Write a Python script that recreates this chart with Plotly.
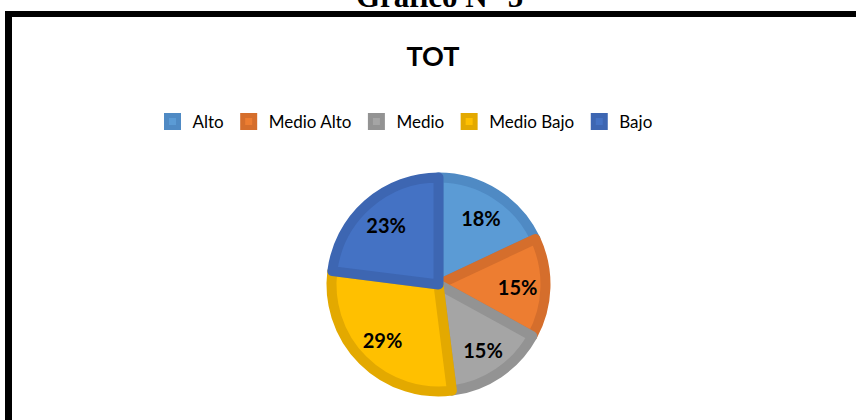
import plotly.graph_objects as go

W, H = 856, 420

categories = ["Alto", "Medio Alto", "Medio", "Medio Bajo", "Bajo"]
values = [18, 15, 15, 29, 23]
fill_colors = ["#5B9BD5", "#ED7D31", "#A5A5A5", "#FFC000", "#4472C4"]
rim_colors = ["#4F8AC4", "#D56E2C", "#939393", "#E3A900", "#3D66B2"]

chart_title = "TOT"
figure_caption = "Gráfico N° 5"

# pie geometry in pixels
cx, cy, R, rim = 438.5, 284.5, 112, 10
r = R - rim / 2
dom = dict(x=[(cx - r) / W, (cx + r) / W], y=[1 - (cy + r) / H, 1 - (cy - r) / H])

fig = go.Figure()
fig.add_trace(go.Pie(
    labels=categories,
    values=values,
    sort=False,
    direction="clockwise",
    rotation=0,
    marker=dict(colors=fill_colors, line=dict(color=rim_colors, width=rim)),
    textinfo="none",
    domain=dom,
    hoverinfo="label+percent",
))
# label layer: transparent ring so labels sit further out like the reference
fig.add_trace(go.Pie(
    labels=categories,
    values=values,
    sort=False,
    direction="clockwise",
    rotation=0,
    hole=0.48,
    marker=dict(colors=["rgba(0,0,0,0)"] * len(categories), line=dict(width=0)),
    textinfo="percent",
    texttemplate="%{percent:.0%}",
    textposition="inside",
    insidetextorientation="horizontal",
    textfont=dict(family="Lato", size=20, color="black", weight="bold"),
    domain=dom,
    showlegend=False,
    hoverinfo="skip",
))

fig.update_layout(
    width=W, height=H,
    margin=dict(l=0, r=0, t=0, b=0),
    paper_bgcolor="white",
    plot_bgcolor="white",
    font=dict(family="Lato", color="black"),
    title=dict(text=chart_title, x=433 / W, xanchor="center", y=1 - 57 / H, yanchor="middle",
               font=dict(family="Lato", size=27, color="black", weight="bold")),
    legend=dict(orientation="h", x=405 / W, xanchor="center", y=1 - 122 / H, yanchor="middle",
                font=dict(family="Lato", size=17, color="black"), traceorder="normal"),
    showlegend=True,
)

# caption cut off at the top of the page
fig.add_annotation(text=f"<b>{figure_caption}</b>", xref="paper", yref="paper",
                   x=440 / W, y=1 - 16 / H, xanchor="center", yanchor="bottom",
                   showarrow=False, font=dict(family="Liberation Serif", size=31, color="black"))

# frame (top and left edges visible)
fig.add_shape(type="line", xref="paper", yref="paper", x0=5 / W, x1=1.02, y0=1 - 14 / H, y1=1 - 14 / H,
              line=dict(color="black", width=6))
fig.add_shape(type="line", xref="paper", yref="paper", x0=8.5 / W, x1=8.5 / W, y0=1 - 11 / H, y1=-0.05,
              line=dict(color="black", width=7))

fig.write_html("out.html", config={"displayModeBar": False},
               post_script="document.body.style.margin='0';")
